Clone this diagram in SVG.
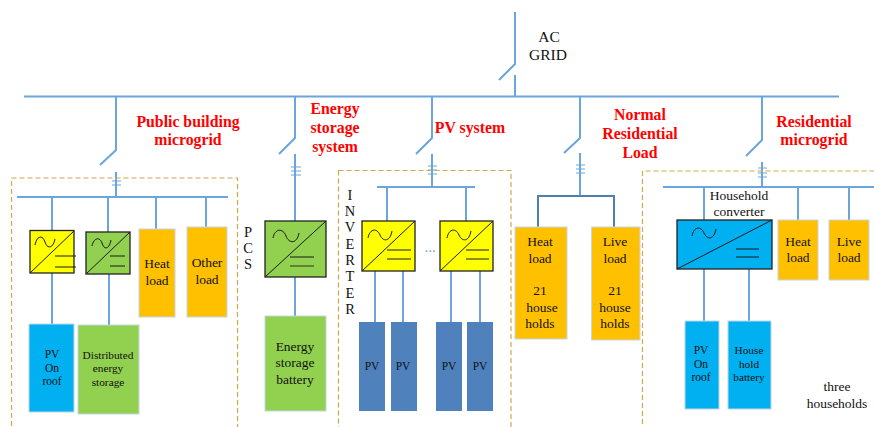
<svg xmlns="http://www.w3.org/2000/svg" width="874" height="427" viewBox="0 0 874 427">
<style>
.l{stroke:#6aa5dc;stroke-width:2;fill:none}
.t{stroke:#6aa5dc;stroke-width:1.2;fill:none}
.dash{stroke:#cfa94e;stroke-width:1.2;stroke-dasharray:5 3;fill:none}
.k{stroke:#1a1a1a;stroke-width:1;fill:none}
.box{stroke:#222;stroke-width:1.3}
.bl{stroke:#c4d6e8;stroke-width:1}
text{font-family:"Liberation Serif",serif;font-size:13.500px;fill:#111;text-anchor:middle}
.r{font-size:15.800px;font-weight:bold;fill:#f00}
.s{font-size:11.300px}
.p{font-size:11.500px}
.big{font-size:15.500px}
.lt{font-size:14.500px}
</style>
<g id="connectors">
<path class="l" d="M515 12V64L499 80M515 75V96.500M24 96.500H839"/>
<path class="l" d="M116 97V150L100 165M116 172V197M17 197H228M52 197V230M108 197V232M156 197V229M206 197V227M52 273V324M109 274V325"/>
<path class="t" d="M112 181H121M112 185H121"/>
<path class="l" d="M295 97V138L279 154M295 154V221M432 97V138L416 154M432 154V187M377 187H475M387 187V221M466 187V221"/>
<path class="t" d="M291 167H301M291 171H301M291 175H301M428 166H437M428 170H437M428 174H437"/>
<path class="l" d="M295 277V316M375 271V322M403 271V322M451 271V322M480 271V322"/>
<path class="l" d="M580 97V138L564 153M580 153V196M762 97V140L746 156M762 162V187M663 187H874M704 187V220M798 187V220M849 187V220M704 269V321M749 269V321"/>
<path class="t" d="M576 165H585M576 169H585M576 173H585M758 168H767M758 173H767M758 177H767"/>
<path d="M538 227V196H614V227" fill="none" stroke="#4f7fae" stroke-width="2"/>
</g>
<g id="frames">
<rect class="dash" x="11.500" y="178" width="226" height="262"/>
<rect class="dash" x="338.500" y="170.500" width="172.500" height="270"/>
<path class="dash" d="M642.500 440V171H874"/>
</g>
<g id="labels">
<text class="r" x="188" y="127">Public building</text><text class="r" x="188" y="145">microgrid</text>
<text class="r" x="335" y="114">Energy</text><text class="r" x="335" y="133">storage</text><text class="r" x="335" y="152">system</text>
<text class="r" x="470" y="133">PV system</text>
<text class="r" x="640" y="120">Normal</text><text class="r" x="640" y="139">Residential</text><text class="r" x="640" y="158">Load</text>
<text class="r" x="814" y="127">Residential</text><text class="r" x="814" y="145">microgrid</text>
<text class="big" x="549" y="42">AC</text><text class="big" x="548" y="60">GRID</text>
<text class="lt" x="248" y="237">P</text><text class="lt" x="248" y="253">C</text><text class="lt" x="248" y="269">S</text>
<g><text class="lt" x="350" y="200">I</text><text class="lt" x="350" y="216">N</text><text class="lt" x="350" y="232">V</text><text class="lt" x="350" y="249">E</text><text class="lt" x="350" y="265">R</text><text class="lt" x="350" y="281">T</text><text class="lt" x="350" y="298">E</text><text class="lt" x="350" y="314">R</text></g>
<text x="430" y="252" style="font-size:15px;fill:#6aa5dc">...</text>
<text x="739" y="200">Household</text><text x="739" y="216">converter</text>
<text x="837" y="391">three</text><text x="837" y="408">households</text>
</g>
<g id="conv-pv"><rect class="box" x="30" y="230.500" width="44" height="42.500" fill="#ff0"/><path class="k" d="M30 273L74 231M55 256H76M55 267H76M35 245C37 235 43 235 45 242C47 249 53 249 55 239"/></g>
<g id="conv-storage"><rect class="box" x="86" y="232" width="44" height="42" fill="#92d050"/><path class="k" d="M86 274L130 232M110 256H125M110 266H125M92 246C94 237 100 237 102 243C104 250 109 250 111 240"/></g>
<g id="heat1"><rect class="bl" x="139" y="229" width="36" height="88" fill="#ffc000"/><text x="157" y="268">Heat</text><text x="157" y="285">load</text></g>
<g id="other1"><rect class="bl" x="187" y="227" width="40" height="90" fill="#ffc000"/><text x="207" y="267">Other</text><text x="207" y="284">load</text></g>
<g id="pv-roof1"><rect class="bl" x="29" y="324" width="45" height="88" fill="#00b0f0"/><text x="52" y="358" class="p">PV</text><text x="52" y="372" class="p">On</text><text x="52" y="385" class="p">roof</text></g>
<g id="dist-storage"><rect class="bl" x="78" y="325" width="61" height="89" fill="#92d050"/><text x="108" y="359" class="s">Distributed</text><text x="108" y="372" class="s">energy</text><text x="108" y="386" class="s">storage</text></g>
<g id="pcs"><rect class="box" x="265" y="221" width="61" height="56" fill="#92d050"/><path class="k" d="M265 277L326 221M290 257H314"/><path d="M290 266H314" stroke="#4b6b2a" stroke-width="1.500"/><path class="k" d="M273 238C275 228 283 228 286 236C289 244 297 244 299 233"/></g>
<g id="battery"><rect class="bl" x="265" y="316" width="61" height="95" fill="#92d050"/><text x="295" y="351">Energy</text><text x="295" y="367">storage</text><text x="295" y="384">battery</text></g>
<g id="inv1"><rect class="box" x="362" y="221" width="53" height="50" fill="#ff0"/><path class="k" d="M362 271L415 221M387 250H411M387 259H411M368 238C370 228 377 228 380 235C383 242 390 242 392 231"/></g>
<g id="inv2"><rect class="box" x="440" y="221" width="53" height="50" fill="#ff0"/><path class="k" d="M440 271L493 221M466 250H489M466 259H489M447 238C449 228 456 228 459 235C462 242 469 242 471 231"/></g>
<g id="pv1"><rect x="359" y="322" width="26" height="89" fill="#4f81bd"/><text x="372" y="370" class="p">PV</text></g>
<g id="pv2"><rect x="391" y="322" width="26" height="89" fill="#4f81bd"/><text x="403" y="370" class="p">PV</text></g>
<g id="pv3"><rect x="436" y="322" width="26" height="89" fill="#4f81bd"/><text x="449" y="370" class="p">PV</text></g>
<g id="pv4"><rect x="467" y="322" width="26" height="89" fill="#4f81bd"/><text x="480" y="370" class="p">PV</text></g>
<g id="heat21"><rect class="bl" x="515" y="227" width="52" height="112" fill="#ffc000"/><text x="540" y="246">Heat</text><text x="540" y="263">load</text><text x="540" y="295">21</text><text x="542" y="312">house</text><text x="540" y="328">holds</text></g>
<g id="live21"><rect class="bl" x="591.500" y="227" width="48.500" height="113" fill="#ffc000"/><text x="615" y="246">Live</text><text x="615" y="263">load</text><text x="615" y="295">21</text><text x="615" y="312">house</text><text x="615" y="328">holds</text></g>
<g id="household-conv"><rect class="box" x="677" y="220" width="95" height="49" fill="#00b0f0"/><path class="k" d="M677 269L772 220M736 249H759M736 257H759M692 236C694 226 701 226 704 233C707 240 714 240 716 229"/></g>
<g id="heat3"><rect class="bl" x="778" y="220" width="40" height="60" fill="#ffc000"/><text x="798" y="246">Heat</text><text x="798" y="262">load</text></g>
<g id="live3"><rect class="bl" x="829" y="220" width="40" height="60" fill="#ffc000"/><text x="849" y="246">Live</text><text x="849" y="262">load</text></g>
<g id="pv-roof3"><rect class="bl" x="685" y="321" width="34" height="88" fill="#00b0f0"/><text x="701" y="354" class="p">PV</text><text x="701" y="368" class="p">On</text><text x="701" y="381" class="p">roof</text></g>
<g id="house-battery"><rect class="bl" x="728" y="321" width="43" height="88" fill="#00b0f0"/><text x="749" y="354" class="s">House</text><text x="749" y="368" class="s">hold</text><text x="749" y="381" class="s">battery</text></g>
</svg>
